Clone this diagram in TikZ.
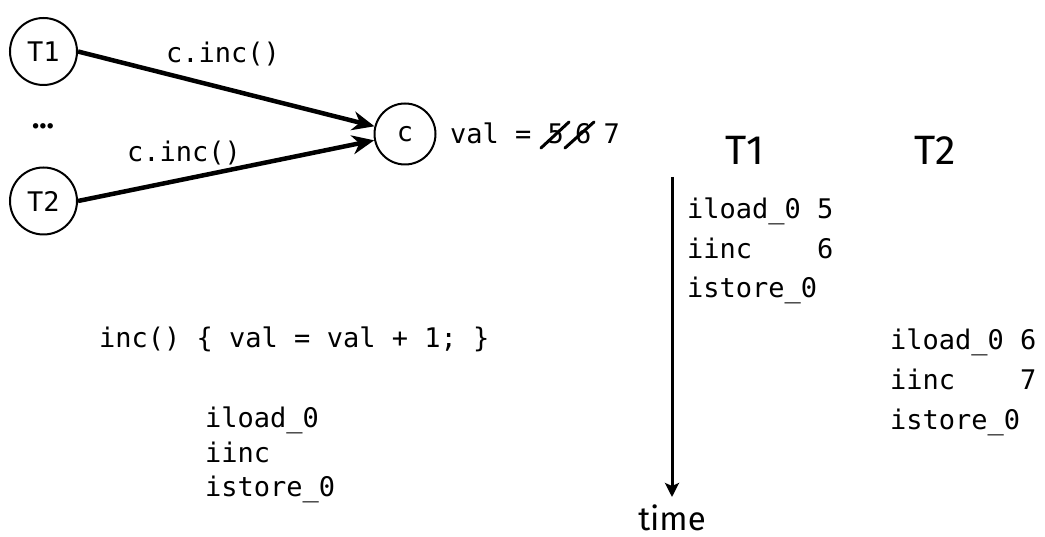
\documentclass[tikz,border=0pt]{standalone}
\usepackage{fontspec}
\setmainfont{Fira Sans}
\newfontfamily\codefont{DejaVu Sans Mono}
\usetikzlibrary{arrows.meta}
\begin{document}
\begin{tikzpicture}[x=1pt,y=-1pt,
  code/.style={font=\codefont\fontsize{27}{30}\selectfont, inner sep=0pt, anchor=base west},
  thread/.style={circle, draw, line width=2pt, minimum size=67pt, inner sep=0pt,
    font=\codefont\fontsize{27}{30}\selectfont},
  callarrow/.style={line width=4.5pt, -{Stealth[length=22pt,width=19pt,inset=7pt]}},
  hdr/.style={font=\fontsize{41}{44}\selectfont, inner sep=0pt, anchor=base},
  strike/.style={line width=3pt, line cap=round},
]
\path[fill=white, use as bounding box] (0,0) rectangle (1045,537);

% left graph
\node[thread] (T1) at (43.5,51.5) {T1};
\node[thread] (T2) at (43.5,201) {T2};
\node[thread, minimum size=61pt] (c) at (405,134) {c};
\node[font=\bfseries\fontsize{30}{30}\selectfont, inner sep=0pt] (dots) at (43,126) {…};

\draw[callarrow] (T1.east) -- (c);
\draw[callarrow] (T2.east) -- (c);
\node[code] (lab1) at (166,63) {c.inc()};
\node[code] (lab2) at (127,162) {c.inc()};

\node[code] (val) at (450,144) {val = 5\kern-5pt{} 6\kern-4pt{} 7};
\draw[strike] (541,148) -- (569,122);
\draw[strike] (565,148) -- (594,122);

% source and bytecode
\node[code] (src) at (99,348) {inc() \{ val = val + 1; \}};
\node[code] (b1) at (205,428) {iload\_0};
\node[code] (b2) at (205,462) {iinc};
\node[code] (b3) at (205,496) {istore\_0};

% timeline
\node[hdr] (h1) at (745,165) {T1};
\node[hdr] (h2) at (935,165) {T2};
\coordinate (ttop) at (672,177);
\coordinate (tbot) at (672,497);
\draw[line width=3pt, -{Stealth[length=14pt,width=14pt,inset=3pt]}] (ttop) -- (tbot);
\node[font=\fontsize{33}{36}\selectfont, inner sep=0pt, anchor=base] (time) at (672,530) {time};

\node[code] (t1a) at (687,219) {iload\_0 5};
\node[code] (t1b) at (687,259) {iinc~~~~6};
\node[code] (t1c) at (687,298) {istore\_0};

\node[code] (t2a) at (890,350) {iload\_0 6};
\node[code] (t2b) at (890,390) {iinc~~~~7};
\node[code] (t2c) at (890,429) {istore\_0};
\end{tikzpicture}
\end{document}
